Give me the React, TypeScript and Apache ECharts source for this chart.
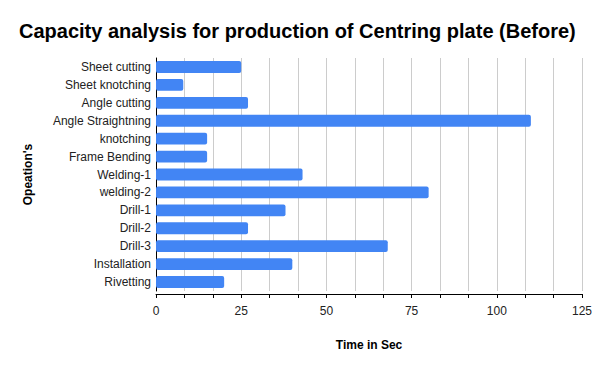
import React, { useEffect, useRef } from "react";
import * as echarts from "echarts";

const categories = [
  "Sheet cutting",
  "Sheet knotching",
  "Angle cutting",
  "Angle Straightning",
  "knotching",
  "Frame Bending",
  "Welding-1",
  "welding-2",
  "Drill-1",
  "Drill-2",
  "Drill-3",
  "Installation",
  "Rivetting",
];
const values = [25, 8, 27, 110, 15, 15, 43, 80, 38, 27, 68, 40, 20];
const xTickLabels = [0, 25, 50, 75, 100, 125];

const FONT = "'Liberation Sans', Arial, sans-serif";

export default function App() {
  const ref = useRef<HTMLDivElement>(null);
  useEffect(() => {
    if (!ref.current) return;
    const chart = echarts.init(ref.current, undefined, { renderer: "svg" });
    chart.setOption({
      animation: false,
      backgroundColor: "#ffffff",
      title: {
        text: "Capacity analysis for production of Centring plate (Before)",
        left: 14,
        top: 16,
        textStyle: { fontFamily: FONT, fontSize: 20, fontWeight: "bold", color: "#000000" },
      },
      grid: { left: 156, right: 18, top: 58, bottom: 80 },
      xAxis: {
        type: "value",
        min: 0,
        max: 125,
        interval: 25 / 3,
        offset: 3,
        name: "Time in Sec",
        nameLocation: "middle",
        nameGap: 45,
        nameTextStyle: { fontFamily: FONT, fontSize: 12, fontWeight: "bold", color: "#000000" },
        axisLine: { show: true, lineStyle: { color: "#000000", width: 1 } },
        axisTick: { show: true, length: 4, lineStyle: { color: "#000000" } },
        axisLabel: {
          fontFamily: FONT,
          fontSize: 12,
          color: "#222222",
          margin: 11,
          formatter: (v: number) => {
            const r = Math.round(v);
            return Math.abs(v - r) < 1e-6 && xTickLabels.includes(r) ? String(r) : "";
          },
        },
        splitLine: { show: true, lineStyle: { color: "#cccccc", width: 1 } },
      },
      yAxis: {
        type: "category",
        data: categories,
        inverse: true,
        name: "Opeation's",
        nameLocation: "middle",
        nameGap: 122,
        nameTextStyle: { fontFamily: FONT, fontSize: 12, fontWeight: "bold", color: "#000000" },
        axisLine: { show: true, lineStyle: { color: "#000000", width: 1 } },
        axisTick: { show: false },
        axisLabel: { fontFamily: FONT, fontSize: 12, color: "#222222", margin: 5 },
      },
      series: [
        {
          type: "bar",
          data: values,
          barCategoryGap: "34%",
          itemStyle: { color: "#4285f4", borderRadius: 2 },
        },
      ],
    });
    return () => chart.dispose();
  }, []);
  return <div ref={ref} style={{ width: 600, height: 371, margin: -8 }} />;
}
